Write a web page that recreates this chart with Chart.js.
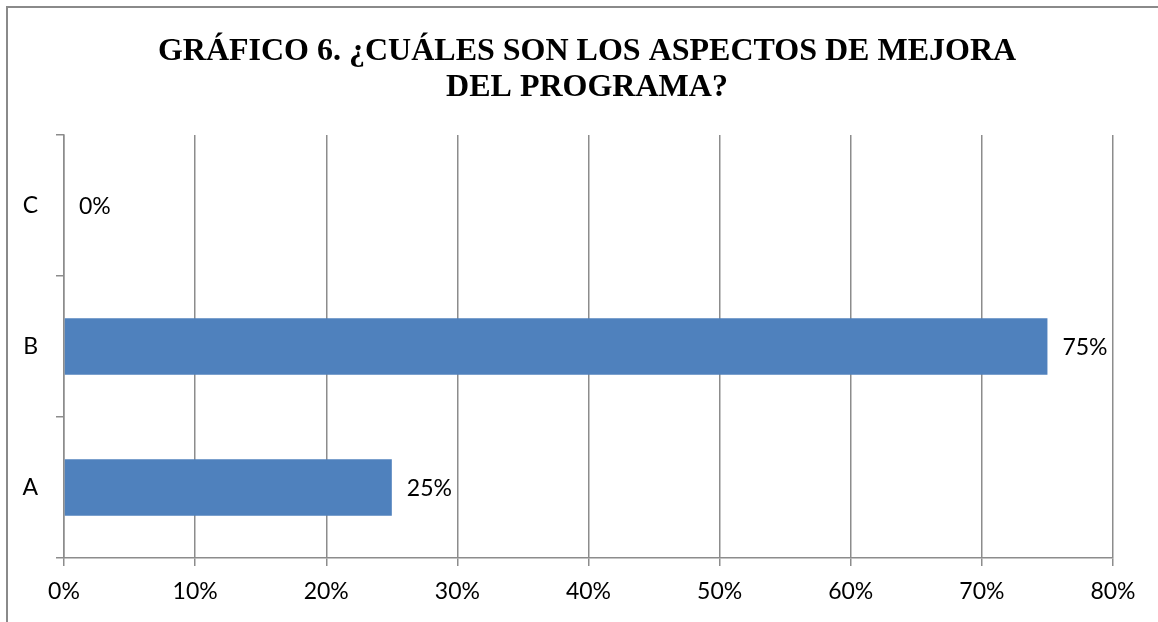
<!DOCTYPE html>
<html>
<head>
<meta charset="utf-8">
<script src="https://cdn.jsdelivr.net/npm/chart.js@4/dist/chart.umd.min.js"></script>
<style>
  html, body { margin: 0; padding: 0; background: #fff; overflow: hidden; }
  #wrap { position: relative; width: 1158px; height: 622px; }
  #frame { position: absolute; left: 6px; top: 6px; width: 1300px; height: 800px;
           border-left: 2px solid #8a8a8a; border-top: 2px solid #8a8a8a; }
  canvas { position: absolute; left: 0; top: 0; }
</style>
</head>
<body>
<div id="wrap">
  <div id="frame"></div>
  <canvas id="c" width="1158" height="622"></canvas>
</div>
<script>
const categories = ['A', 'B', 'C'];
const values = [25, 75, 0];
const tickValues = [0, 10, 20, 30, 40, 50, 60, 70, 80];
const titleLines = ['GRÁFICO 6. ¿CUÁLES SON LOS ASPECTOS DE MEJORA', 'DEL PROGRAMA?'];

const labelFont = { family: 'Lato', size: 23 };
const gridColor = '#8c8c8c';

const titlePlugin = {
  id: 'titleLines',
  afterDraw(chart) {
    const ctx = chart.ctx;
    ctx.save();
    ctx.font = 'bold 32px "Liberation Serif"';
    ctx.fillStyle = '#000';
    ctx.textAlign = 'center';
    ctx.textBaseline = 'alphabetic';
    ctx.fillText(titleLines[0], 587, 60);
    ctx.fillText(titleLines[1], 587, 96);
    ctx.restore();
  }
};

const dataLabels = {
  id: 'dataLabels',
  afterDatasetsDraw(chart) {
    const ctx = chart.ctx;
    const meta = chart.getDatasetMeta(0);
    ctx.save();
    ctx.font = '23px Lato';
    ctx.fillStyle = '#000';
    ctx.textAlign = 'left';
    ctx.textBaseline = 'middle';
    meta.data.forEach((bar, i) => {
      ctx.fillText(values[i] + '%', bar.x + 15, bar.y + 1);
    });
    ctx.restore();
  }
};

new Chart(document.getElementById('c'), {
  type: 'bar',
  data: {
    labels: categories,
    datasets: [{
      data: values,
      backgroundColor: '#4f81bd',
      borderWidth: 0,
      categoryPercentage: 1,
      barPercentage: 0.4
    }]
  },
  options: {
    indexAxis: 'y',
    responsive: false,
    animation: false,
    layout: { padding: { left: 0, right: 45, top: 135, bottom: 0 } },
    plugins: {
      legend: { display: false },
      tooltip: { enabled: false },
      title: { display: false }
    },
    scales: {
      x: {
        min: 0,
        max: 80,
        afterBuildTicks(scale) { scale.ticks = tickValues.map(v => ({ value: v })); },
        ticks: {
          callback: v => v + '%',
          color: '#000',
          font: labelFont,
          padding: 12,
          maxRotation: 0
        },
        grid: { color: gridColor, lineWidth: 1.5, tickLength: 8, drawTicks: true },
        border: { color: gridColor, width: 1.5 },
        afterFit(scale) { scale.height = 64; }
      },
      y: {
        reverse: true,
        ticks: { color: '#000', font: labelFont, padding: 18 },
        grid: { drawOnChartArea: false, drawTicks: true, tickLength: 8, color: gridColor, lineWidth: 1.5 },
        border: { color: gridColor, width: 1.5 },
        afterFit(scale) { scale.width = 64; }
      }
    }
  },
  plugins: [dataLabels, titlePlugin]
});
</script>
</body>
</html>
